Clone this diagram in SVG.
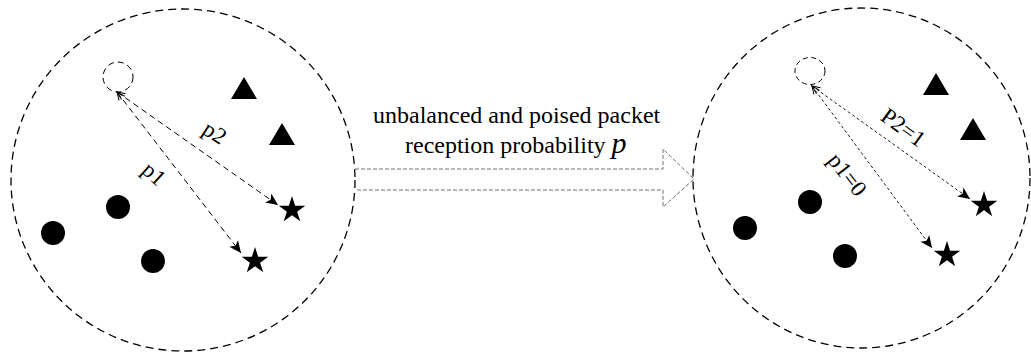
<svg xmlns="http://www.w3.org/2000/svg" width="1031" height="352" viewBox="0 0 1031 352">
<style>
.big{fill:none;stroke:#000;stroke-width:1.3;stroke-dasharray:8 5}
.small{fill:none;stroke:#000;stroke-width:1;stroke-dasharray:6 4}
.dot{fill:#000}
.lbl{font-family:"Liberation Serif","Times New Roman",serif;font-size:23px;fill:#000;text-anchor:middle}
.cap{font-family:"Liberation Serif","Times New Roman",serif;font-size:24px;fill:#000}
.linkL{fill:none;stroke:#000;stroke-width:1;stroke-dasharray:6 4;marker-end:url(#ah);marker-start:url(#tail)}
.linkR{fill:none;stroke:#000;stroke-width:0.9;stroke-dasharray:3 2.5;marker-end:url(#ah);marker-start:url(#tail)}
.bigarrow{fill:none;stroke:#707070;stroke-width:1;stroke-dasharray:4 2}
</style>
<defs>
<path id="star" d="M0,-14 L3.15,-4.33 L13.31,-4.33 L5.09,1.65 L8.23,11.33 L0,5.35 L-8.23,11.33 L-5.09,1.65 L-13.31,-4.33 L-3.15,-4.33 Z"/>
<path id="tri" d="M0,-11 L13,11 L-13,11 Z"/>
<marker id="ah" markerUnits="userSpaceOnUse" markerWidth="16" markerHeight="16" viewBox="-14 -8 16 16" refX="0" refY="0" orient="auto">
<path d="M0,0 L-12,-5.5 L-9,0 L-12,5.5 Z" fill="#000"/>
</marker>
<marker id="tail" markerUnits="userSpaceOnUse" markerWidth="14" markerHeight="14" viewBox="-2 -7 14 14" refX="0" refY="0" orient="auto">
<path d="M8,-3.5 L0,0 L8,3.5" fill="none" stroke="#000" stroke-width="1"/>
</marker>
</defs>

<g id="left-region">
<ellipse class="big" cx="183" cy="180" rx="172" ry="171"/>
</g>
<g id="right-region">
<ellipse class="big" cx="861.5" cy="178" rx="168.5" ry="170"/>
</g>

<g id="left-source"><circle class="small" cx="118" cy="77" r="15"/></g>
<g id="left-tri1"><use href="#tri" x="244" y="88"/></g>
<g id="left-tri2"><use href="#tri" x="282" y="134"/></g>
<g id="left-dot1"><circle class="dot" cx="118" cy="207" r="12"/></g>
<g id="left-dot2"><circle class="dot" cx="53" cy="233" r="12"/></g>
<g id="left-dot3"><circle class="dot" cx="153" cy="261" r="12"/></g>
<g id="left-star1"><use href="#star" x="292" y="210"/></g>
<g id="left-star2"><use href="#star" x="255" y="261"/></g>

<g id="right-source"><ellipse class="small" cx="810" cy="71" rx="15" ry="13.5" style="stroke-dasharray:5 3.5"/></g>
<g id="right-tri1"><use href="#tri" x="936" y="84"/></g>
<g id="right-tri2"><use href="#tri" x="973" y="129"/></g>
<g id="right-dot1"><circle class="dot" cx="810" cy="202" r="12"/></g>
<g id="right-dot2"><circle class="dot" cx="745" cy="228" r="12"/></g>
<g id="right-dot3"><circle class="dot" cx="845" cy="256" r="12"/></g>
<g id="right-star1"><use href="#star" x="984" y="205"/></g>
<g id="right-star2"><use href="#star" x="947" y="255"/></g>

<g id="connectors">
<path class="linkL" d="M117,92 L278,205"/>
<path class="linkL" d="M117,92 L241,253"/>
<path class="linkR" d="M812,86 L970,199"/>
<path class="linkR" d="M812,86 L932,248"/>
<path class="bigarrow" d="M355,169 L663,169 L663,149 L694,179 L663,207 L663,190 L355,190"/>
</g>

<g id="labels">
<text class="lbl" transform="translate(214,134) rotate(33)" y="6">p2</text>
<text class="lbl" transform="translate(153,175) rotate(42)" y="6">p1</text>
<text class="lbl" transform="translate(903,128) rotate(36)" y="7">P2=1</text>
<text class="lbl" transform="translate(847,175) rotate(52)" y="7">p1=0</text>
<text class="cap" x="373" y="123">unbalanced and poised packet</text>
<text class="cap" x="405" y="153">reception probability <tspan font-style="italic" font-size="30">p</tspan></text>
</g>
</svg>
